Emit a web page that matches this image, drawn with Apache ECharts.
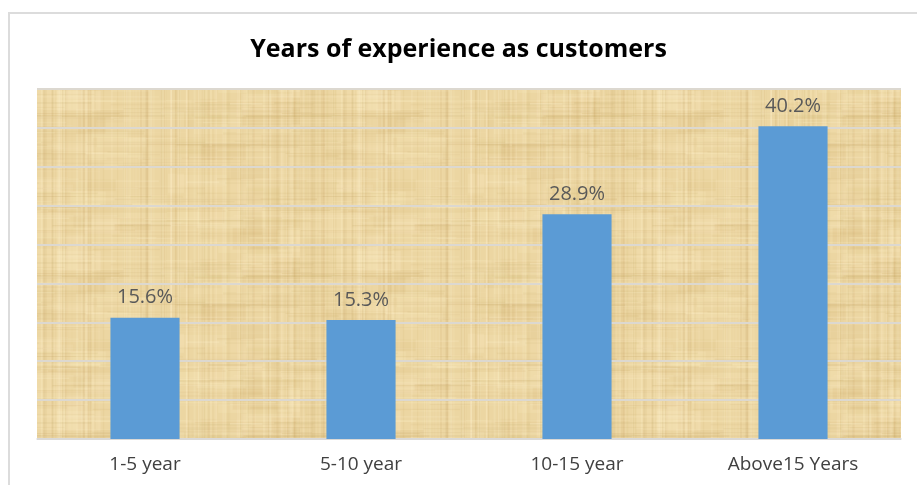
<!DOCTYPE html>
<html>
<head>
<meta charset="utf-8">
<script src="https://cdn.jsdelivr.net/npm/echarts@6/dist/echarts.min.js"></script>
<style>
html,body{margin:0;padding:0;background:#fff;}
#frame{position:absolute;left:8px;top:12px;width:920px;height:480px;border:2px solid #dcdcdc;box-sizing:border-box;}
#main{position:absolute;left:0;top:0;width:917px;height:485px;}
</style>
</head>
<body>
<div id="frame"></div>
<div id="main"></div>
<script>
var titleText = 'Years of experience as customers';
var categories = ['1-5 year', '5-10 year', '10-15 year', 'Above15 Years'];
var values = [15.6, 15.3, 28.9, 40.2];
var yMin = 0, yMax = 45, yInterval = 5;

// decorative papyrus-like texture (deterministic)
function makeTexture() {
  var c = document.createElement('canvas');
  c.width = 300; c.height = 160;
  var g = c.getContext('2d');
  g.fillStyle = '#ecd6a2';
  g.fillRect(0, 0, c.width, c.height);
  var s = 12345;
  function rnd() { s = (s * 1103515245 + 12345) & 0x7fffffff; return s / 0x7fffffff; }
  for (var k = 0; k < 60; k++) {
    var bx = rnd() * c.width, by = rnd() * c.height;
    g.fillStyle = rnd() < 0.5 ? 'rgba(205,170,100,' + (0.05 + rnd() * 0.08) + ')' : 'rgba(255,240,200,' + (0.08 + rnd() * 0.12) + ')';
    g.fillRect(bx, by, 15 + rnd() * 50, 6 + rnd() * 20);
  }
  for (var i = 0; i < 160; i++) {
    var x = rnd() * c.width, w = 0.5 + rnd() * 2;
    var dark = rnd() < 0.5;
    g.fillStyle = dark ? 'rgba(190,155,85,' + (0.04 + rnd() * 0.1) + ')' : 'rgba(255,242,205,' + (0.08 + rnd() * 0.18) + ')';
    g.fillRect(x, 0, w, c.height);
  }
  for (var j = 0; j < 140; j++) {
    var y = rnd() * c.height, h = 0.5 + rnd() * 1.5;
    var x0 = rnd() * c.width, len = 30 + rnd() * 200;
    var d2 = rnd() < 0.5;
    g.fillStyle = d2 ? 'rgba(185,150,80,' + (0.04 + rnd() * 0.1) + ')' : 'rgba(255,242,205,' + (0.08 + rnd() * 0.15) + ')';
    g.fillRect(x0, y, len, h);
    if (x0 + len > c.width) g.fillRect(x0 - c.width, y, len, h);
  }
  return c;
}

var chart = echarts.init(document.getElementById('main'), null, {renderer: 'canvas'});
chart.setOption({
  animation: false,
  backgroundColor: 'transparent',
  title: {
    text: titleText,
    left: 'center',
    top: 32,
    textStyle: {fontFamily: 'Open Sans', fontWeight: 'bold', fontSize: 25, color: '#000'}
  },
  grid: {
    left: 37, right: 16, top: 89, bottom: 46,
    show: true,
    borderWidth: 0,
    backgroundColor: {image: makeTexture(), repeat: 'repeat'}
  },
  xAxis: {
    type: 'category',
    data: categories,
    axisLine: {show: true, lineStyle: {color: '#d9d9d9', width: 1.5}},
    axisTick: {show: false},
    axisLabel: {fontFamily: 'Open Sans', fontSize: 19, color: '#404040', margin: 16}
  },
  yAxis: {
    type: 'value',
    min: yMin, max: yMax, interval: yInterval,
    axisLabel: {show: false},
    axisLine: {show: false},
    axisTick: {show: false},
    splitLine: {show: true, lineStyle: {color: '#dcd8d0', width: 2}}
  },
  series: [{
    type: 'bar',
    data: values,
    barWidth: '32%',
    itemStyle: {color: '#5b9bd5'},
    label: {
      show: true,
      position: 'top',
      distance: 10,
      formatter: function (p) { return p.value.toFixed(1) + '%'; },
      fontFamily: 'Open Sans',
      fontSize: 20,
      color: '#595959'
    }
  }]
});
</script>
</body>
</html>
